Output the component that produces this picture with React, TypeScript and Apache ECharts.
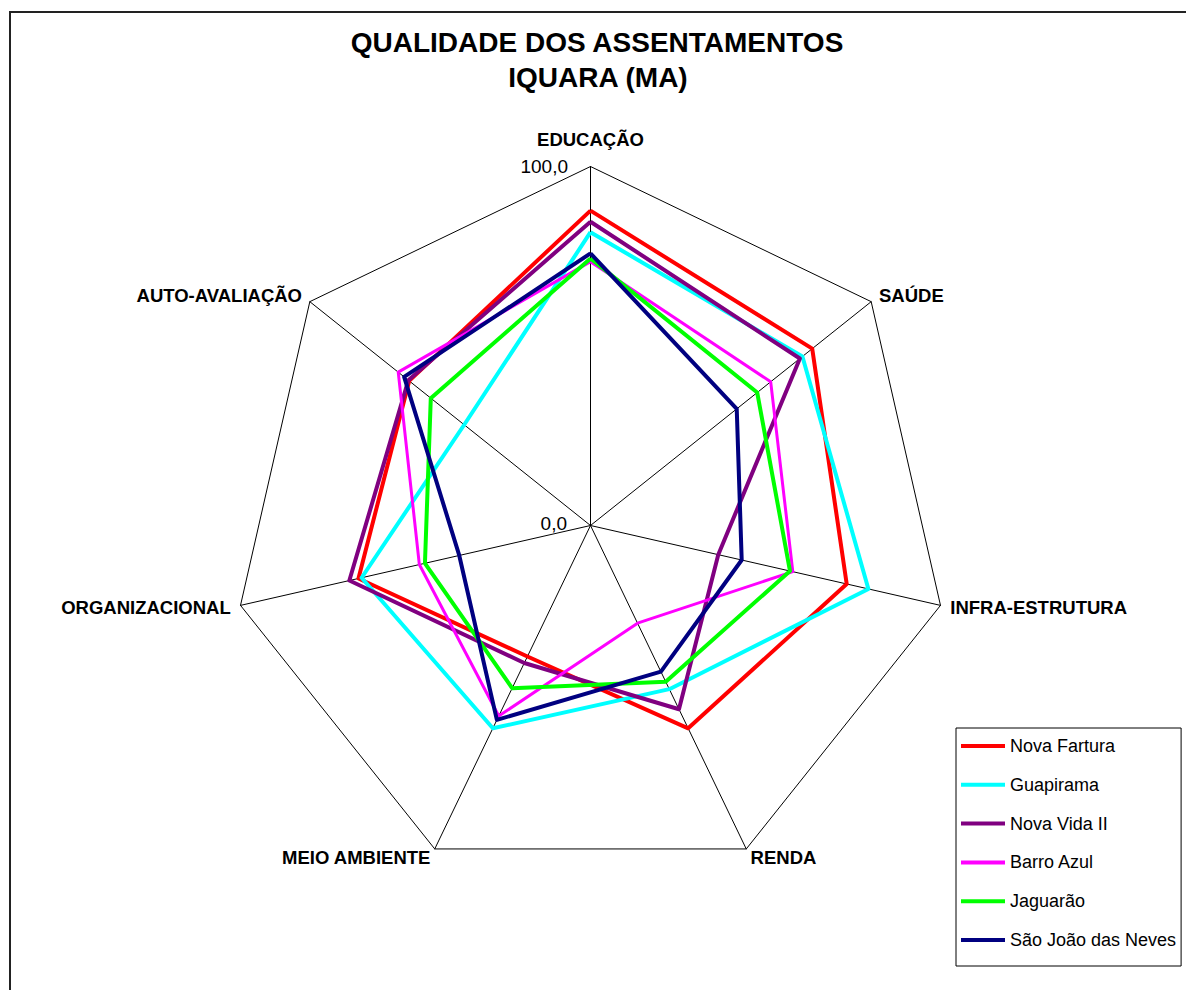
import React, { useEffect, useRef } from "react";
import * as echarts from "echarts";

// Axis (indicator) names, clockwise from the top
const indicatorNames = [
  "EDUCAÇÃO",
  "SAÚDE",
  "INFRA-ESTRUTURA",
  "RENDA",
  "MEIO AMBIENTE",
  "ORGANIZACIONAL",
  "AUTO-AVALIAÇÃO",
];

const seriesNames = [
  "Nova Fartura",
  "Guapirama",
  "Nova Vida II",
  "Barro Azul",
  "Jaguarão",
  "São João das Neves",
];

// Values in the same clockwise order as indicatorNames
const novaFartura = [87.7, 79.0, 73.2, 62.7, 40.5, 66.3, 64.6];
const guapirama = [81.7, 75.5, 79.4, 50.6, 62.7, 65.4, 45.0];
const novaVidaII = [84.6, 74.6, 36.5, 56.8, 42.5, 68.9, 64.9];
const barroAzul = [73.5, 64.2, 57.8, 30.2, 58.9, 48.9, 68.5];
const jaguarao = [74.4, 59.4, 57.0, 48.3, 50.3, 47.3, 56.9];
const saoJoao = [75.8, 52.1, 43.2, 45.2, 60.1, 37.5, 66.4];

const scaleTickLabels = ["0,0", "100,0"];

const seriesValues = [novaFartura, guapirama, novaVidaII, barroAzul, jaguarao, saoJoao];
const seriesColors = ["#FF0000", "#00FFFF", "#800080", "#FF00FF", "#00FF00", "#000080"];
const seriesWidths = [4, 4, 4, 3, 4, 4];

// ECharts lays out radar indicators counter-clockwise; reorder to get clockwise
const order = [0, 6, 5, 4, 3, 2, 1];

const FONT = "'Liberation Sans', Arial, Helvetica, sans-serif";

export default function App() {
  const ref = useRef<HTMLDivElement>(null);

  useEffect(() => {
    document.body.style.margin = "0";
    if (!ref.current) return;
    const chart = echarts.init(ref.current, undefined, { renderer: "svg" });

    const option: any = {
      animation: false,
      backgroundColor: "#ffffff",
      textStyle: { fontFamily: FONT },
      radar: {
        center: [590.5, 525.5],
        radius: 359,
        startAngle: 90,
        shape: "polygon",
        splitNumber: 1,
        nameGap: 10,
        indicator: order.map((i) => ({ name: indicatorNames[i], min: 0, max: 100 })),
        axisName: {
          color: "#000",
          fontSize: 18.5,
          fontWeight: "bold",
          fontFamily: FONT,
          formatter: (name: string) => (name === indicatorNames[0] ? `{top|${name}}` : name),
          rich: {
            top: {
              color: "#000",
              fontSize: 18.5,
              fontWeight: "bold",
              fontFamily: FONT,
              padding: [0, 0, 8, 0],
            },
          },
        },
        axisLine: { lineStyle: { color: "#000", width: 1 } },
        splitLine: { lineStyle: { color: "#000", width: 1 } },
        splitArea: { show: false },
        axisTick: { show: false },
        axisLabel: { show: false },
      },
      legend: {
        orient: "vertical",
        left: 956,
        top: 728,
        padding: [8, 5, 16, 5],
        itemGap: 18.8,
        itemWidth: 44,
        itemHeight: 4,
        icon: "rect",
        borderColor: "#000",
        borderWidth: 1,
        textStyle: { fontSize: 18, lineHeight: 20, color: "#000", fontFamily: FONT },
        data: seriesNames,
      },
      graphic: [
        {
          type: "rect",
          shape: { x: 10, y: 12, width: 1300, height: 1100 },
          style: { fill: "none", stroke: "#222", lineWidth: 2 },
          silent: true,
        },
        {
          type: "text",
          x: 597,
          y: 42,
          style: {
            text: "QUALIDADE DOS ASSENTAMENTOS",
            fill: "#000",
            font: `bold 28px ${FONT}`,
            textAlign: "center",
            textVerticalAlign: "middle",
          },
        },
        {
          type: "text",
          x: 598,
          y: 77,
          style: {
            text: "IQUARA (MA)",
            fill: "#000",
            font: `bold 28px ${FONT}`,
            textAlign: "center",
            textVerticalAlign: "middle",
          },
        },
        {
          type: "text",
          x: 568,
          y: 166,
          style: {
            text: scaleTickLabels[1],
            fill: "#000",
            font: `19px ${FONT}`,
            textAlign: "right",
            textVerticalAlign: "middle",
          },
        },
        {
          type: "text",
          x: 567,
          y: 523,
          style: {
            text: scaleTickLabels[0],
            fill: "#000",
            font: `19px ${FONT}`,
            textAlign: "right",
            textVerticalAlign: "middle",
          },
        },
      ],
      series: [
        {
          type: "radar",
          symbol: "none",
          data: seriesNames.map((name, k) => ({
            name,
            value: order.map((i) => seriesValues[k][i]),
            lineStyle: { color: seriesColors[k], width: seriesWidths[k] },
            itemStyle: { color: seriesColors[k] },
          })),
        },
      ],
    };

    chart.setOption(option);
    return () => chart.dispose();
  }, []);

  return <div ref={ref} style={{ width: 1186, height: 990 }} />;
}
